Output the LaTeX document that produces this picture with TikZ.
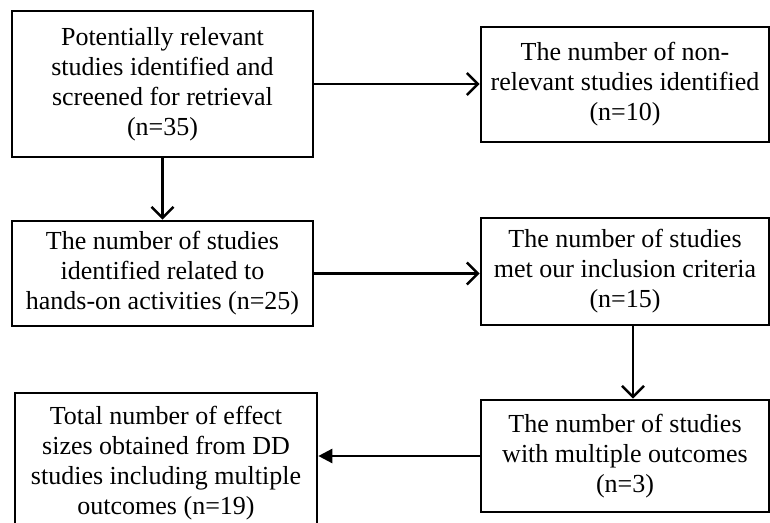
\documentclass[tikz,border=0pt]{standalone}
\usepackage{fontspec}
\setmainfont{Liberation Serif}
\usetikzlibrary{arrows.meta}

\tikzset{
  stagebox/.style={draw=black,line width=2.6pt,fill=white,align=center,
    font=\fontsize{26}{30}\selectfont,inner sep=0pt},
  flowline/.style={draw=black,line width=2.6pt,
    -{Straight Barb[length=11pt,width=22pt,line width=2.6pt]}},
  filledline/.style={draw=black,line width=2.4pt,
    -{Triangle[length=14pt,width=14pt]}}
}

\begin{document}
\begin{tikzpicture}[scale=1.000000,x=1pt,y=1pt]
\useasboundingbox (0.000000, 0.000000) rectangle (770.000000, 522.000000);
% Drawing boxes
% Box 1: screened studies
\node[stagebox,minimum width=301pt,minimum height=146pt] (screened) at (162.500000, 438.000000)
  {Potentially relevant\\studies identified and\\screened for retrieval\\(n=35)};
% Box 2: non-relevant studies
\node[stagebox,minimum width=288pt,minimum height=115pt] (nonrelevant) at (625.000000, 437.500000)
  {The number of non-\\relevant studies identified\\(n=10)};
% Box 3: hands-on studies
\node[stagebox,minimum width=301pt,minimum height=105pt] (handson) at (162.500000, 248.500000)
  {The number of studies\\identified related to\\hands-on activities (n=25)};
% Box 4: inclusion criteria
\node[stagebox,minimum width=288pt,minimum height=107pt] (included) at (625.000000, 250.500000)
  {The number of studies\\met our inclusion criteria\\(n=15)};
% Box 5: effect sizes (cut at the bottom)
\node[stagebox,minimum width=302pt,minimum height=140pt] (effects) at (166.000000, 59.000000)
  {Total number of effect\\sizes obtained from DD\\studies including multiple\\outcomes (n=19)};
% Box 6: multiple outcomes
\node[stagebox,minimum width=288pt,minimum height=112pt] (multiple) at (625.000000, 66.000000)
  {The number of studies\\with multiple outcomes\\(n=3)};
% Done with boxes; drawing arrows
\draw[flowline] (screened.east) -- (screened.east -| nonrelevant.west);
\draw[flowline] (screened.south) -- (handson.north);
\draw[flowline] (handson.east) -- (handson.east -| included.west);
\draw[flowline] ([xshift=8pt]included.south) -- ([xshift=8pt]included.south |- multiple.north);
\draw[filledline] (multiple.west) -- (multiple.west -| effects.east);
% Done with arrows
\end{tikzpicture}
\end{document}
